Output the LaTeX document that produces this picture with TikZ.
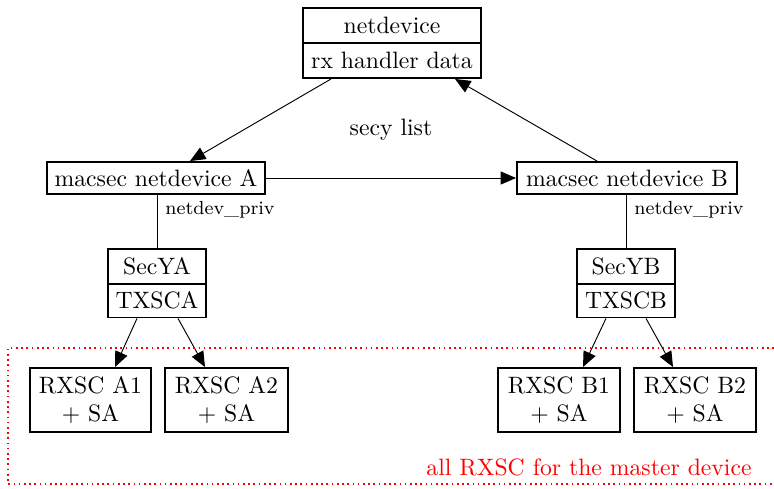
\documentclass[tikz,border=0pt]{standalone}
\usetikzlibrary{arrows.meta}
\begin{document}
\begin{tikzpicture}[x=0.4218pt,y=-0.4218pt,
  box/.style={draw,thick,rectangle,inner sep=1pt,align=center},
  conn/.style={line width=0.4pt},
  arr/.style={conn,-{Triangle[length=6.5pt,width=5.5pt]}},
  lbl/.style={font=\footnotesize,anchor=west,inner sep=0pt}]
\useasboundingbox (0,0) rectangle (774,488);
% top netdevice
\node[box,minimum width=75.1pt,minimum height=14.8pt] (nd) at (392,25.5) {netdevice};
\node[box,minimum width=75.1pt,minimum height=14.8pt] (rx) at (392,60.5) {rx handler data};
% macsec devices
\node[box,minimum width=92.0pt,minimum height=13.5pt] (macA) at (156,178) {macsec netdevice A};
\node[box,minimum width=92.8pt,minimum height=13.5pt] (macB) at (627,178) {macsec netdevice B};
% secy
\node[box,minimum width=41.3pt,minimum height=14.8pt] (secA) at (157,266.5) {SecYA};
\node[box,minimum width=41.3pt,minimum height=14.3pt] (txA) at (157,300.5) {TXSCA};
\node[box,minimum width=41.3pt,minimum height=14.8pt] (secB) at (626,266.5) {SecYB};
\node[box,minimum width=41.3pt,minimum height=14.3pt] (txB) at (626,300.5) {TXSCB};
% rxsc
\node[box,minimum width=51.0pt,minimum height=27pt] (A1) at (90.5,400) {RXSC A1\\+ SA};
\node[box,minimum width=51.9pt,minimum height=27pt] (A2) at (226.5,400) {RXSC A2\\+ SA};
\node[box,minimum width=51.5pt,minimum height=27pt] (B1) at (559,400) {RXSC B1\\+ SA};
\node[box,minimum width=51.5pt,minimum height=27pt] (B2) at (695,400) {RXSC B2\\+ SA};
% labels
\node (secy) at (391,130) {secy list};
\node[lbl] (privA) at (165,210) {netdev\_priv};
\node[lbl] (privB) at (634,210) {netdev\_priv};
% connectors
\draw[arr] ([shift={(-61,0)}]rx.south) -- ([shift={(34,0)}]macA.north);
\draw[arr] ([shift={(-30,0)}]macB.north) -- ([shift={(63,0)}]rx.south);
\draw[arr] (macA.east) -- (macB.west);
\draw[conn] (macA.south -| secA.north) -- (secA.north);
\draw[conn] (macB.south -| secB.north) -- (secB.north);
\draw[arr] ([shift={(-20,0)}]txA.south) -- ([shift={(24.5,0)}]A1.north);
\draw[arr] ([shift={(21,0)}]txA.south) -- ([shift={(-21.5,0)}]A2.north);
\draw[arr] ([shift={(-20,0)}]txB.south) -- ([shift={(24,0)}]B1.north);
\draw[arr] ([shift={(20,0)}]txB.south) -- ([shift={(-22,0)}]B2.north);
% red dotted region
\coordinate (rtr) at (774,348);
\coordinate (rtl) at (8,348);
\coordinate (rbl) at (8,484);
\coordinate (rbr) at (774,484);
\draw[red,line width=0.7pt,dash pattern=on 0.7pt off 1.5pt] (rtr) -- (rtl) -- (rbl) -- (rbr);
\node[red,anchor=east] (all) at (760,467) {all RXSC for the master device};
\end{tikzpicture}
\end{document}
